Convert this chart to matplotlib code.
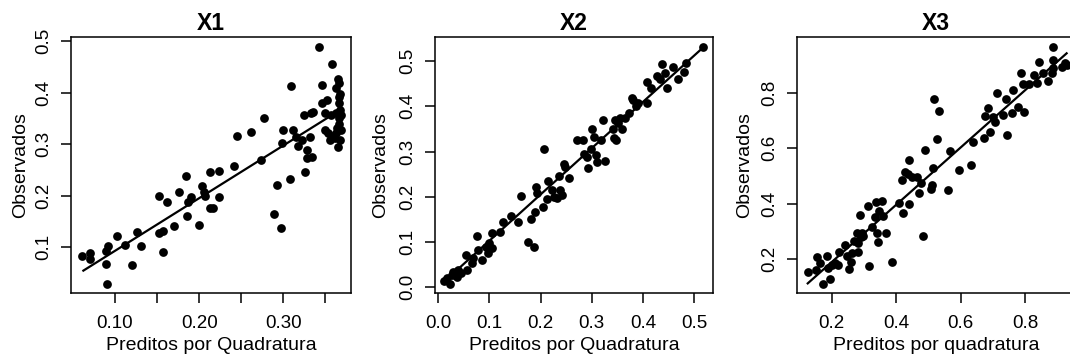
import matplotlib
matplotlib.use("Agg")
import matplotlib.pyplot as plt

plt.rcParams['font.family'] = ['Liberation Sans', 'DejaVu Sans']

# ---------------- data ----------------
titles = ["X1", "X2", "X3"]
xlabels = ["Preditos por Quadratura", "Preditos por Quadratura", "Preditos por quadratura"]
ylabel = "Observados"

x1 = [0.0604, 0.0703, 0.0703, 0.0893, 0.0921, 0.0893, 0.090, 0.102, 0.112, 0.120,
      0.1257, 0.131, 0.152, 0.152, 0.157, 0.157, 0.162, 0.170, 0.176, 0.184,
      0.185, 0.187, 0.190, 0.200, 0.2038, 0.206, 0.207, 0.213, 0.213, 0.216,
      0.223, 0.223, 0.241, 0.245, 0.262, 0.273, 0.277, 0.289, 0.293, 0.297,
      0.298, 0.300, 0.308, 0.309, 0.312, 0.315, 0.317, 0.322, 0.3245, 0.326,
      0.328, 0.328, 0.332, 0.3325, 0.334, 0.3356, 0.342, 0.3455, 0.3463, 0.349,
      0.350, 0.3515, 0.3535, 0.3555, 0.357, 0.358, 0.359, 0.361, 0.3626, 0.363,
      0.364, 0.365, 0.366, 0.366, 0.366, 0.3665, 0.3665, 0.367, 0.367, 0.367,
      0.365, 0.363, 0.368, 0.368]
y1 = [0.0838, 0.0897, 0.0767, 0.0935, 0.1026, 0.067, 0.029, 0.1226, 0.1045, 0.0658,
      0.1297, 0.103, 0.1995, 0.128, 0.132, 0.0916, 0.188, 0.141, 0.208, 0.239,
      0.161, 0.187, 0.198, 0.1427, 0.219, 0.208, 0.200, 0.246, 0.177, 0.177,
      0.248, 0.197, 0.2577, 0.316, 0.324, 0.269, 0.350, 0.164, 0.220, 0.1375,
      0.3016, 0.327, 0.232, 0.413, 0.327, 0.3145, 0.296, 0.308, 0.356, 0.2467,
      0.2887, 0.274, 0.314, 0.360, 0.2745, 0.363, 0.4877, 0.4147, 0.380, 0.327,
      0.360, 0.385, 0.321, 0.308, 0.356, 0.4548, 0.316, 0.311, 0.360, 0.408,
      0.3306, 0.4257, 0.418, 0.392, 0.379, 0.350, 0.340, 0.366, 0.398, 0.308,
      0.295, 0.321, 0.356, 0.327]
fit_x1 = [0.0624, 0.3535]
fit_y1 = [0.0548, 0.352]

x2 = [0.0117, 0.0163, 0.0228, 0.026, 0.029, 0.036, 0.039, 0.044, 0.054, 0.057,
      0.065, 0.068, 0.075, 0.078, 0.086, 0.093, 0.0965, 0.0997, 0.104, 0.104,
      0.1206, 0.126, 0.143, 0.156, 0.161, 0.176, 0.181, 0.187, 0.189, 0.191,
      0.192, 0.205, 0.2067, 0.212, 0.215, 0.222, 0.227, 0.2314, 0.236, 0.238,
      0.241, 0.246, 0.2477, 0.2555, 0.272, 0.2836, 0.2855, 0.290, 0.293, 0.2986,
      0.301, 0.305, 0.3077, 0.3096, 0.3227, 0.319, 0.326, 0.341, 0.344, 0.3455,
      0.347, 0.352, 0.355, 0.360, 0.365, 0.3735, 0.378, 0.381, 0.3866, 0.391,
      0.408, 0.4087, 0.415, 0.427, 0.4335, 0.4368, 0.443, 0.4465, 0.4596, 0.469,
      0.481, 0.4844, 0.518]
y2 = [0.0147, 0.0199, 0.0074, 0.027, 0.0346, 0.0236, 0.038, 0.031, 0.0707, 0.038,
      0.053, 0.064, 0.114, 0.0825, 0.060, 0.0898, 0.075, 0.097, 0.119, 0.086,
      0.122, 0.144, 0.1576, 0.144, 0.2018, 0.100, 0.150, 0.088, 0.167, 0.221,
      0.2077, 0.177, 0.3056, 0.194, 0.235, 0.215, 0.200, 0.1966, 0.2467, 0.215,
      0.204, 0.2717, 0.2666, 0.242, 0.3255, 0.3255, 0.2945, 0.287, 0.263, 0.305,
      0.349, 0.333, 0.2916, 0.276, 0.3697, 0.3255, 0.280, 0.350, 0.329, 0.3697,
      0.3255, 0.362, 0.373, 0.349, 0.373, 0.386, 0.4175, 0.414, 0.4006, 0.4065,
      0.408, 0.4543, 0.4396, 0.467, 0.4595, 0.4926, 0.474, 0.4396, 0.4875, 0.4595,
      0.4764, 0.4948, 0.530]
fit_x2 = [0.0078, 0.518]
fit_y2 = [0.0088, 0.530]

x3 = [0.1255, 0.151, 0.1535, 0.1638, 0.174, 0.1845, 0.1897, 0.195, 0.200, 0.2103,
      0.2207, 0.2238, 0.2414, 0.2466, 0.2548, 0.26, 0.262, 0.2693, 0.2776, 0.281,
      0.283, 0.288, 0.290, 0.293, 0.298, 0.317, 0.3138, 0.324, 0.3345, 0.3366,
      0.3397, 0.345, 0.347, 0.355, 0.358, 0.3686, 0.386, 0.41, 0.417, 0.4224,
      0.4276, 0.436, 0.44, 0.44, 0.448, 0.4638, 0.471, 0.4762, 0.4845, 0.4896,
      0.507, 0.510, 0.5134, 0.5176, 0.526, 0.534, 0.562, 0.5672, 0.595, 0.631,
      0.6397, 0.673, 0.6758, 0.686, 0.6914, 0.6996, 0.707, 0.714, 0.7327, 0.740,
      0.743, 0.7586, 0.7638, 0.779, 0.7866, 0.793, 0.797, 0.8134, 0.828, 0.836,
      0.8445, 0.857, 0.8703, 0.883, 0.886, 0.888, 0.888, 0.914, 0.924, 0.929]
y3 = [0.1543, 0.160, 0.2084, 0.1844, 0.1098, 0.2108, 0.1663, 0.1266, 0.1784, 0.1844,
      0.1784, 0.2265, 0.2505, 0.2108, 0.1627, 0.190, 0.2228, 0.2661, 0.2926, 0.2565,
      0.2265, 0.3587, 0.2806, 0.2926, 0.283, 0.1747, 0.3924, 0.3167, 0.3527, 0.4044,
      0.2926, 0.2625, 0.3732, 0.4105, 0.355, 0.2926, 0.188, 0.401, 0.485, 0.3672,
      0.515, 0.5067, 0.557, 0.398, 0.497, 0.497, 0.439, 0.4754, 0.283, 0.5933,
      0.4514, 0.467, 0.5295, 0.776, 0.6317, 0.735, 0.449, 0.5897, 0.521, 0.539,
      0.621, 0.6354, 0.716, 0.7436, 0.659, 0.711, 0.6955, 0.7977, 0.7195, 0.777,
      0.6474, 0.728, 0.8097, 0.7496, 0.8699, 0.8314, 0.7315, 0.830, 0.8639, 0.8338,
      0.912, 0.8699, 0.8434, 0.8699, 0.888, 0.9637, 0.918, 0.894, 0.906, 0.900]
fit_x3 = [0.1255, 0.929]
fit_y3 = [0.112, 0.942]

xticks = [[0.10, 0.15, 0.20, 0.25, 0.30, 0.35],
          [0.0, 0.1, 0.2, 0.3, 0.4, 0.5],
          [0.2, 0.4, 0.6, 0.8]]
xticklabels = [["0.10", "", "0.20", "", "0.30", ""],
               ["0.0", "0.1", "0.2", "0.3", "0.4", "0.5"],
               ["0.2", "0.4", "0.6", "0.8"]]
yticks = [[0.1, 0.2, 0.3, 0.4, 0.5],
          [0.0, 0.1, 0.2, 0.3, 0.4, 0.5],
          [0.2, 0.4, 0.6, 0.8]]
yticklabels = [["0.1", "0.2", "0.3", "0.4", "0.5"],
               ["0.0", "0.1", "0.2", "0.3", "0.4", "0.5"],
               ["0.2", "0.4", "0.6", "0.8"]]

# ---------------- layout ----------------
W, H = 1070, 363
fig = plt.figure(figsize=(W / 100, H / 100), dpi=100)

boxes = [(71, 351), (435, 713.3), (797, 1075)]
top_px, bot_px = 37.3, 293
xlims = [(0.0477, 0.3804), (-0.0065, 0.5377), (0.0922, 0.955)]
ylims = [(0.0114, 0.5072), (-0.0126, 0.5523), (0.0773, 0.9998)]
ylab_off = [50.7, 54.2, 52.7]

series = [(x1, y1, fit_x1, fit_y1), (x2, y2, fit_x2, fit_y2), (x3, y3, fit_x3, fit_y3)]

for i in range(3):
    l, r = boxes[i]
    ax = fig.add_axes([l / W, (H - bot_px) / H, (r - l) / W, (bot_px - top_px) / H])
    xs, ys, fx, fy = series[i]
    ax.plot(xs, ys, 'o', color='black', ms=6.3, mew=0, zorder=3)
    ax.plot(fx, fy, '-', color='black', lw=1.6, zorder=4)
    ax.set_xlim(*xlims[i])
    ax.set_ylim(*ylims[i])
    ax.set_xticks(xticks[i])
    ax.set_xticklabels(xticklabels[i])
    ax.set_yticks(yticks[i])
    ax.set_yticklabels(yticklabels[i], rotation=90, va='center')
    ax.tick_params(axis='both', direction='out', length=7.5, width=1.1,
                   labelsize=13.5, color='black')
    ax.tick_params(axis='x', pad=8.0)
    ax.tick_params(axis='y', pad=6.0)
    for s in ax.spines.values():
        s.set_linewidth(1.1)
    ax.set_title(titles[i], fontsize=16.5, fontweight='bold', pad=5.3)
    ax.set_xlabel(xlabels[i], fontsize=14, va='center')
    ax.xaxis.set_label_coords(0.5, -52.8 / (bot_px - top_px))
    ax.set_ylabel(ylabel, fontsize=14, va='center')
    ax.yaxis.set_label_coords(-ylab_off[i] / (r - l), 0.5)

fig.savefig("out.png", dpi=100)
